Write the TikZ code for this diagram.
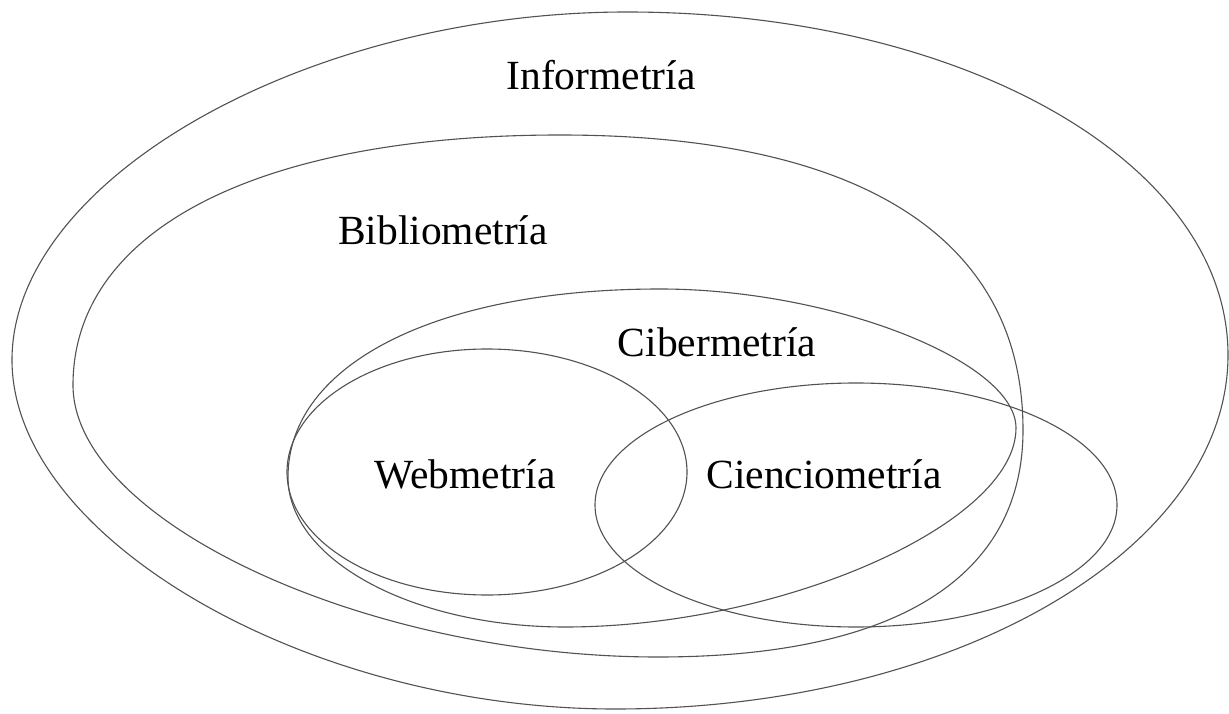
\documentclass[tikz,border=0pt]{standalone}
\usepackage{fontspec}
\setmainfont{Liberation Serif}
\begin{document}
\begin{tikzpicture}[x=1pt,y=-1pt,
  ring/.style={draw=black!68, line width=1.1pt},
  lbl/.style={font=\fontsize{41.5}{50}\selectfont, inner sep=0pt, anchor=base, text=black}]
\useasboundingbox (0,0) rectangle (1229,714);
\fill[white] (0,0) rectangle (1229,714);
% Informetria
\draw[ring] (627,12) .. controls (964,12) and (1228,163) .. (1228,355)
  .. controls (1228,550) and (954,709) .. (615,709)
  .. controls (307,709) and (12,538) .. (12,360)
  .. controls (12,179) and (307,12) .. cycle;
% Bibliometria
\draw[ring] (560,135) .. controls (861,135) and (1023,238) .. (1023,430)
  .. controls (1023,578) and (895,657) .. (658,657)
  .. controls (366,657) and (73,521) .. (73,385)
  .. controls (73,230) and (258,135) .. cycle;
% Cibermetria
\draw[ring] (660,289) .. controls (831,289) and (1016,361) .. (1016,428)
  .. controls (1016,524) and (781,627) .. (565,627)
  .. controls (413,627) and (288,560) .. (288,477)
  .. controls (288,364) and (437,289) .. cycle;
% Webmetria
\draw[ring] (487,472) ellipse [x radius=200pt, y radius=123pt];
% Cienciometria
\draw[ring] (856,505) ellipse [x radius=261pt, y radius=122pt];
% labels
\node[lbl] (inf) at (601,90) {Informetría};
\node[lbl] (bib) at (443,244) {Bibliometría};
\node[lbl] (cib) at (717,356) {Cibermetría};
\node[lbl] (web) at (465,488) {Webmetría};
\node[lbl] (cie) at (824,488) {Cienciometría};
\end{tikzpicture}
\end{document}
